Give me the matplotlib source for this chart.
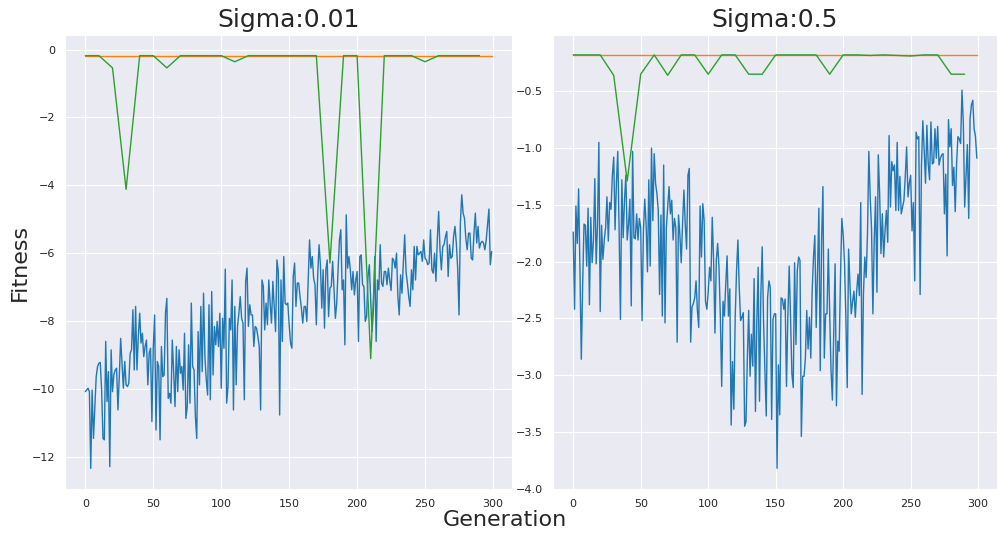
import numpy as np
import matplotlib.pyplot as plt
import seaborn as sns

sns.set_style('darkgrid')

generations = np.arange(300)
checkpoints = np.arange(0, 300, 10)
titles = ['Sigma:0.01', 'Sigma:0.5']

# mean fitness per generation, sigma = 0.01
fitness_low = [
    -10.08, -10.03, -9.98, -10.08, -12.34, -10.03, -11.46, -10.52, -9.64, -9.34,
    -9.24, -9.22, -10.03, -11.46, -11.50, -8.60, -10.37, -9.49, -12.29, -8.85,
    -10.08, -9.59, -9.44, -9.39, -10.62, -9.64, -8.51, -9.24, -9.98, -9.19,
    -9.88, -9.93, -9.83, -8.95, -8.85, -7.67, -9.44, -7.57, -9.44, -8.46,
    -7.77, -8.65, -8.36, -9.05, -8.75, -8.56, -9.88, -8.95, -8.80, -10.96,
    -8.80, -7.82, -11.21, -9.19, -9.34, -11.50, -8.75, -9.64, -9.59, -7.77,
    -7.33, -10.28, -10.13, -10.42, -8.56, -9.49, -10.52, -8.75, -10.08, -8.85,
    -9.54, -9.34, -10.03, -8.36, -10.87, -10.52, -8.70, -10.42, -7.47, -9.34,
    -9.44, -10.82, -11.46, -8.31, -9.88, -7.57, -9.49, -7.18, -9.05, -9.73,
    -10.18, -7.52, -10.32, -7.13, -9.59, -8.16, -8.70, -8.01, -8.75, -7.77,
    -9.98, -7.92, -8.80, -6.47, -10.42, -9.93, -7.92, -8.26, -6.79, -10.62,
    -7.57, -9.88, -8.16, -7.77, -7.28, -7.92, -8.06, -10.32, -6.83, -6.44,
    -8.16, -7.52, -7.82, -7.82, -8.75, -8.16, -8.21, -8.46, -8.75, -10.62,
    -6.79, -6.98, -8.26, -7.47, -8.11, -6.79, -7.47, -8.06, -6.83, -7.57,
    -8.31, -6.20, -6.54, -10.77, -6.79, -8.60, -6.10, -7.47, -7.52, -7.47,
    -8.11, -8.65, -8.80, -6.69, -6.29, -7.57, -6.88, -6.88, -7.28, -7.62,
    -8.06, -7.57, -7.57, -8.01, -6.79, -5.61, -6.44, -6.10, -6.74, -6.93,
    -8.11, -6.64, -5.75, -6.34, -7.62, -6.49, -8.21, -6.49, -6.20, -7.87,
    -7.03, -6.98, -6.24, -7.08, -7.92, -7.47, -6.49, -5.61, -5.31, -7.08,
    -6.79, -8.70, -4.87, -6.44, -6.10, -6.49, -7.08, -6.54, -7.23, -6.79,
    -6.54, -8.60, -6.10, -6.05, -6.93, -6.98, -8.01, -7.87, -6.69, -6.34,
    -7.38, -8.31, -7.67, -6.10, -8.60, -6.79, -7.08, -5.75, -6.88, -6.98,
    -6.54, -6.54, -6.93, -6.44, -6.80, -7.10, -6.15, -6.21, -6.44, -6.00,
    -7.28, -7.82, -6.64, -7.18, -6.29, -5.46, -6.54, -6.88, -7.28, -7.57,
    -6.49, -7.08, -5.80, -6.79, -5.80, -6.05, -6.00, -5.95, -6.24, -5.61,
    -6.15, -6.20, -6.34, -6.29, -5.31, -6.49, -6.59, -6.00, -6.83, -5.61,
    -4.77, -5.90, -6.49, -5.80, -5.75, -5.51, -5.36, -6.69, -5.75, -6.15,
    -6.10, -5.51, -5.21, -5.70, -6.44, -7.82, -5.11, -4.28, -4.82, -4.97,
    -5.56, -5.90, -5.41, -5.41, -6.15, -6.20, -5.41, -4.82, -5.70, -5.21,
    -5.85, -5.70, -5.65, -5.70, -5.90, -5.61, -5.16, -4.70, -6.34, -5.95,
]

# mean fitness per generation, sigma = 0.5
fitness_high = [
    -1.74, -2.42, -1.51, -1.84, -1.36, -2.08, -2.86, -2.20, -1.67, -1.68,
    -2.04, -1.53, -2.38, -1.61, -2.01, -1.81, -1.27, -2.02, -1.67, -0.95,
    -2.44, -1.68, -1.98, -1.81, -1.70, -1.43, -1.82, -1.48, -1.54, -1.24,
    -1.08, -1.72, -1.31, -1.03, -1.73, -2.51, -1.28, -1.79, -1.46, -1.24,
    -1.81, -1.67, -1.45, -2.39, -1.03, -1.79, -1.80, -1.58, -1.81, -1.62,
    -1.70, -2.52, -1.73, -1.45, -1.67, -2.09, -1.28, -2.04, -1.00, -1.64,
    -1.05, -1.31, -1.40, -1.55, -2.29, -1.59, -2.48, -1.15, -2.54, -1.70,
    -1.52, -1.34, -1.58, -1.46, -1.81, -1.62, -1.70, -2.71, -1.59, -1.76,
    -2.01, -1.67, -1.37, -1.67, -1.89, -1.24, -1.18, -2.71, -2.40, -2.37,
    -2.32, -2.17, -2.43, -2.58, -1.51, -1.96, -1.49, -1.64, -2.35, -2.42,
    -2.27, -2.05, -2.17, -1.61, -1.99, -2.63, -1.99, -1.84, -2.05, -2.49,
    -3.10, -2.35, -2.48, -2.20, -1.95, -2.48, -2.24, -3.44, -2.88, -3.30,
    -2.49, -2.08, -1.81, -2.23, -2.52, -2.49, -2.45, -3.45, -3.41, -2.85,
    -2.43, -3.01, -2.64, -2.92, -2.15, -3.32, -2.54, -2.05, -3.23, -2.29,
    -1.87, -2.52, -2.96, -3.36, -2.32, -2.17, -2.23, -3.39, -2.51, -2.46,
    -2.46, -3.82, -2.91, -3.35, -2.32, -2.33, -2.42, -2.33, -3.10, -2.49,
    -2.04, -2.49, -2.99, -3.11, -2.01, -2.73, -2.08, -1.96, -1.99, -3.54,
    -3.01, -3.01, -2.85, -2.43, -2.77, -2.49, -2.85, -2.26, -1.96, -1.77,
    -2.58, -2.08, -1.53, -2.96, -1.81, -1.34, -2.85, -2.46, -2.46, -1.89,
    -2.46, -2.96, -3.22, -2.64, -2.02, -3.27, -2.70, -2.79, -2.14, -1.62,
    -1.76, -2.02, -2.49, -3.11, -1.89, -2.20, -2.46, -2.35, -2.26, -2.49,
    -2.26, -2.11, -2.30, -1.48, -3.17, -2.29, -1.96, -2.14, -1.76, -1.03,
    -1.43, -1.71, -2.46, -1.81, -1.43, -2.27, -1.06, -1.40, -1.93, -1.58,
    -1.96, -1.73, -1.55, -1.83, -0.89, -1.52, -1.12, -1.20, -1.15, -1.55,
    -0.95, -1.55, -1.25, -1.58, -1.52, -1.46, -1.25, -0.99, -1.43, -1.31,
    -1.24, -1.73, -1.48, -2.17, -0.86, -0.92, -0.90, -2.29, -1.15, -0.76,
    -1.02, -1.31, -0.80, -1.14, -1.28, -0.77, -1.14, -1.13, -0.83, -1.09,
    -0.81, -1.15, -1.09, -1.06, -1.05, -1.58, -1.23, -1.95, -0.75, -0.99,
    -0.83, -1.33, -1.17, -1.56, -1.14, -0.90, -0.92, -0.96, -0.49, -0.78,
    -1.52, -1.25, -0.97, -1.62, -0.74, -0.62, -0.58, -0.83, -0.90, -1.09,
]

# best possible fitness (flat orange line)
optimum = -0.18

# best fitness sampled every 10 generations
check_low = [
    -0.18, -0.18, -0.54, -4.12, -0.18, -0.18, -0.54, -0.18, -0.18, -0.18,
    -0.18, -0.36, -0.18, -0.18, -0.18, -0.18, -0.18, -0.18, -6.29, -0.18,
    -0.18, -9.11, -0.18, -0.18, -0.18, -0.36, -0.18, -0.18, -0.18, -0.18,
]
check_high = [
    -0.18, -0.18, -0.18, -0.36, -1.29, -0.35, -0.18, -0.36, -0.18, -0.18,
    -0.35, -0.18, -0.18, -0.35, -0.35, -0.18, -0.18, -0.18, -0.18, -0.35,
    -0.18, -0.18, -0.185, -0.18, -0.185, -0.19, -0.18, -0.18, -0.35, -0.35,
]

fig = plt.figure(figsize=(9.97, 5.33), dpi=100)
ax1 = fig.add_axes([0.0652, 0.0826, 0.4483, 0.8517])
ax2 = fig.add_axes([0.5547, 0.0826, 0.4453, 0.8517])

for ax, fit, chk, title in zip([ax1, ax2], [fitness_low, fitness_high],
                               [check_low, check_high], titles):
    ax.plot(generations, fit, lw=1)
    ax.plot(generations, [optimum] * len(generations), lw=1)
    ax.plot(checkpoints, chk, lw=1)
    ax.set_title(title, fontsize=18)
    ax.tick_params(labelsize=8)

# the original top edge sits just under 0, so no 0.0 tick there
ax2.set_ylim(-4.0025, -0.005)

fig.text(0.506, 0.024, 'Generation', ha='center', va='center', fontsize=16)
fig.text(0.02, 0.508, 'Fitness', rotation=90, ha='center', va='center', fontsize=16)

fig.savefig('out.png')
